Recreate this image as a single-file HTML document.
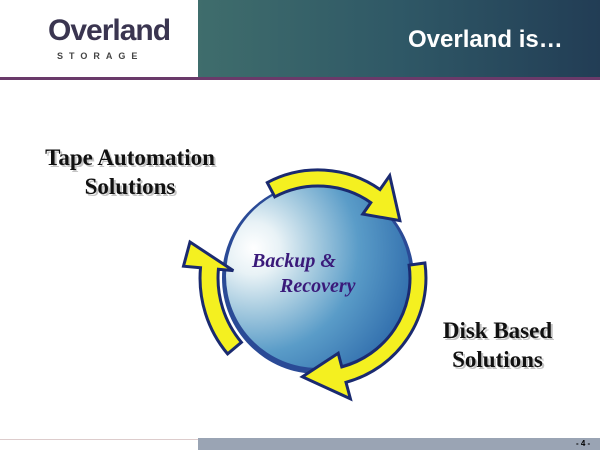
<!DOCTYPE html>
<html><head><style>
body{margin:0;width:600px;height:450px;overflow:hidden;background:#fff;position:relative;font-family:"Liberation Serif",serif}
.t{position:absolute;font-weight:bold;font-size:23px;color:#111;text-align:center;text-shadow:2px 2px 0 #c4c4c4;line-height:29px}
</style></head><body>
<div style="position:absolute;left:198px;top:0;width:402px;height:77px;background:linear-gradient(90deg,#3f6d6c,#2f5866 50%,#223d55)"></div>
<div style="position:absolute;left:0;top:77px;width:600px;height:3px;background:#6a3a6a"></div>
<div style="position:absolute;left:48px;top:14px;font:bold 30px 'Liberation Sans',sans-serif;color:#3a3550;letter-spacing:-1px">Overland</div>
<div style="position:absolute;left:57px;top:51px;font:bold 9px 'Liberation Sans',sans-serif;color:#444;letter-spacing:6px">STORAGE</div>
<div style="position:absolute;left:408px;top:26px;font:bold 24px 'Liberation Sans',sans-serif;color:#fff">Overland is…</div>
<div style="position:absolute;left:0;top:439px;width:198px;height:1px;background:#dcc"></div>
<div style="position:absolute;left:198px;top:438px;width:402px;height:12px;background:#9aa4b4"></div>
<div style="position:absolute;left:576px;top:439px;font:bold 8px 'Liberation Sans',sans-serif">- 4 -</div>
<div class="t" style="left:30px;top:143px;width:200px">Tape Automation<br>Solutions</div>
<div class="t" style="left:400px;top:316px;width:195px">Disk Based<br>Solutions</div>
<svg width="600" height="450" style="position:absolute;left:0;top:0">
<defs>
<radialGradient id="g" cx="0.15" cy="0.35" r="0.95">
<stop offset="0" stop-color="#fff"/><stop offset="0.15" stop-color="#e8f2f6"/><stop offset="0.35" stop-color="#a8cce0"/><stop offset="0.6" stop-color="#5a9cc8"/><stop offset="1" stop-color="#2a66a8"/></radialGradient>
</defs>
<circle cx="318" cy="278" r="96" fill="#2a4a96"/>
<circle cx="318" cy="276" r="92" fill="url(#g)"/>
<g fill="#f4f020" stroke="#1a2a70" stroke-width="3" stroke-linejoin="miter">
<path d="M274.8 196.8 A92 92 0 0 1 370.8 202.6 L362.8 214.1 L399.9 220.6 L389.7 175.6 L380 189.5 A108 108 0 0 0 267.3 182.6 Z"/>
<path d="M409.1 265.2 A92 92 0 0 1 341.8 366.9 L338.2 353.3 L302.4 376.8 L350.4 398.8 L346 382.3 A108 108 0 0 0 424.9 263 Z"/>
<path d="M241.4 342.3 A100 100 0 0 1 218.4 269.3 L233.3 270.6 L190 242 L183.5 266.2 L200.5 267.7 A118 118 0 0 0 227.6 353.9 Z"/>
</g>
<text x="252" y="267" font-family="Liberation Serif" font-style="italic" font-weight="bold" font-size="20" fill="#3a1a7a">Backup &amp;</text>
<text x="280" y="292" font-family="Liberation Serif" font-style="italic" font-weight="bold" font-size="20" fill="#3a1a7a">Recovery</text>
</svg>
</body></html>
